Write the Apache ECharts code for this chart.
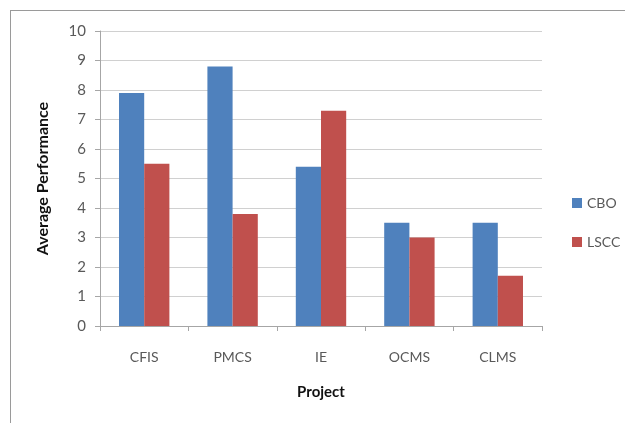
<!DOCTYPE html>
<html>
<head>
<meta charset="utf-8">
<script src="https://cdn.jsdelivr.net/npm/echarts@6/dist/echarts.min.js"></script>
<style>
  html, body { margin: 0; padding: 0; background: #fff; }
  #frame { position: absolute; left: 10px; top: 10px; width: 640px; height: 440px;
           border-left: 1.5px solid #9a9a9a; border-top: 1.5px solid #9a9a9a; }
  #chart { position: absolute; left: 0; top: 0; width: 625px; height: 423px; }
</style>
</head>
<body>
<div id="frame"></div>
<div id="chart"></div>
<script>
// Projects on the category axis
const projects = ['CFIS', 'PMCS', 'IE', 'OCMS', 'CLMS'];
// Average performance per project
const cboValues = [7.9, 8.8, 5.4, 3.5, 3.5];
const lsccValues = [5.5, 3.8, 7.3, 3.0, 1.7];
const seriesNames = ['CBO', 'LSCC'];

const font = 'Lato, "Open Sans", sans-serif';
const chart = echarts.init(document.getElementById('chart'), null, { renderer: 'canvas' });
chart.setOption({
  animation: false,
  grid: { left: 100, right: 83, top: 31, bottom: 97 },
  legend: {
    orient: 'vertical',
    left: 567, top: 191,
    itemWidth: 10, itemHeight: 10, itemGap: 25,
    icon: 'rect',
    textStyle: { fontFamily: font, fontSize: 14, color: '#595959' },
    data: seriesNames
  },
  xAxis: {
    type: 'category',
    data: projects,
    name: 'Project',
    nameLocation: 'middle',
    nameGap: 59,
    nameTextStyle: { fontFamily: font, fontSize: 15, fontWeight: 'bold', color: '#111' },
    axisLine: { lineStyle: { color: '#a6a6a6', width: 1 } },
    axisTick: { show: true, length: 5, lineStyle: { color: '#a6a6a6' } },
    axisLabel: { fontFamily: font, fontSize: 14, color: '#595959', margin: 24 }
  },
  yAxis: {
    type: 'value',
    min: 0, max: 10, interval: 1,
    name: 'Average Performance',
    nameLocation: 'middle',
    nameGap: 49,
    nameRotate: 90,
    nameTextStyle: { fontFamily: font, fontSize: 16, fontWeight: 'bold', color: '#111' },
    axisLine: { show: true, lineStyle: { color: '#a6a6a6', width: 1 } },
    axisTick: { show: true, length: 5, lineStyle: { color: '#a6a6a6' } },
    axisLabel: { fontFamily: font, fontSize: 15, color: '#595959', margin: 14 },
    splitLine: { lineStyle: { color: '#d0d0d0', width: 1 } }
  },
  series: [
    { name: seriesNames[0], type: 'bar', data: cboValues, barGap: '0%', barCategoryGap: '43%',
      itemStyle: { color: '#4F81BD' } },
    { name: seriesNames[1], type: 'bar', data: lsccValues, barGap: '0%', barCategoryGap: '43%',
      itemStyle: { color: '#C0504D' } }
  ]
});
</script>
</body>
</html>
